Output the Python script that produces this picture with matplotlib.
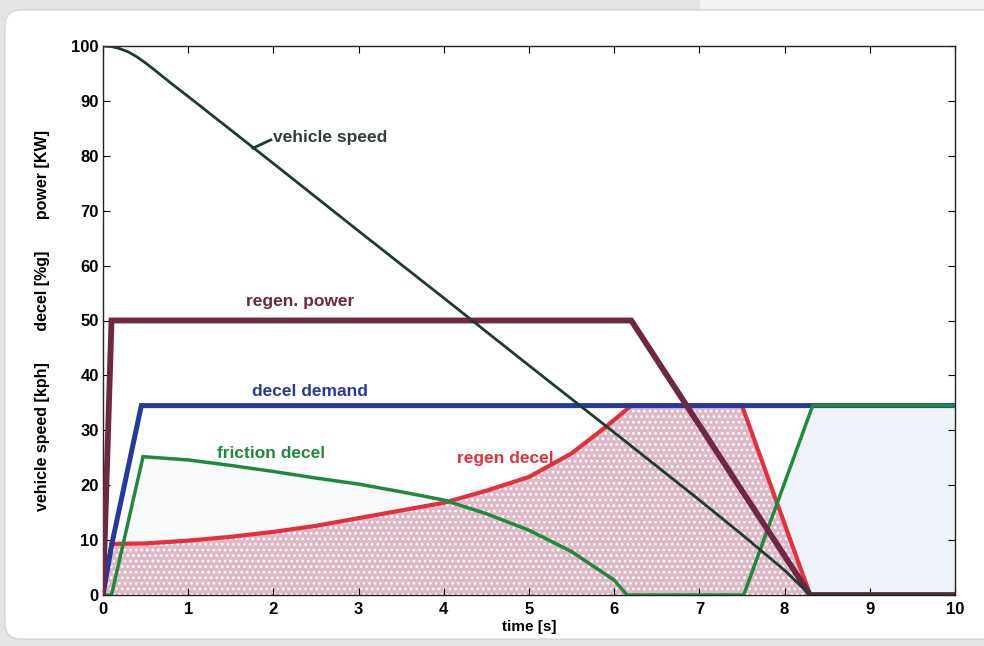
import matplotlib
matplotlib.use("Agg")
import matplotlib.pyplot as plt
from matplotlib.patches import FancyBboxPatch, Rectangle
import numpy as np

plt.rcParams['font.family'] = ['Liberation Sans', 'DejaVu Sans']
plt.rcParams['hatch.linewidth'] = 1.2

# ---- data ----
speed_t = [0, 0.1, 0.2, 0.3, 0.4, 0.5, 0.6, 0.8, 1, 2, 3, 4, 5, 6, 7, 7.5, 8, 8.3, 10]
speed_v = [100, 99.9, 99.5, 98.9, 98.0, 96.9, 95.7, 93.2, 90.8, 78.6, 66.3, 54.1, 41.8, 29.6, 17.3, 11.0, 4.5, 0, 0]

power_t = [0, 0.1, 6.2, 7.5, 8.3, 10]
power_v = [0, 50, 50, 19, 0, 0]

demand_t = [0, 0.1, 0.45, 10]
demand_v = [0, 9, 34.5, 34.5]

regen_t = [0, 0.1, 0.5, 1, 1.5, 2, 2.5, 3, 3.5, 4, 4.5, 5, 5.5, 5.9, 6.2, 7.5, 8.3, 10]
regen_v = [0, 9.3, 9.4, 9.9, 10.6, 11.5, 12.6, 14.0, 15.4, 16.8, 19.0, 21.5, 25.8, 30.6, 34.5, 34.5, 0, 0]

fric_t = [0, 0.1, 0.47, 1, 1.5, 2, 2.5, 3, 3.5, 4, 4.5, 5, 5.5, 6, 6.15, 7.52, 8.33, 10]
fric_v = [0, 0, 25.2, 24.6, 23.6, 22.5, 21.3, 20.2, 18.8, 17.3, 14.8, 11.8, 7.9, 2.7, 0, 0, 34.5, 34.5]

xticks = list(range(0, 11))
yticks = list(range(0, 101, 10))

# ---- figure ----
W, H = 984, 646
fig = plt.figure(figsize=(W / 100, H / 100), dpi=100)
fig.patch.set_facecolor('#e3e4e6')

bg = fig.add_axes([0, 0, 1, 1], zorder=-10)
bg.set_axis_off()
bg.set_xlim(0, W)
bg.set_ylim(H, 0)
bg.add_patch(Rectangle((700, -5), 400, 14, facecolor='#f2f2f3', edgecolor='none'))
bg.add_patch(FancyBboxPatch((5, 10), W + 40, H - 17,
                            boxstyle="round,pad=0,rounding_size=16",
                            facecolor='white', edgecolor='#d0d0d0', linewidth=0.8))

ax = fig.add_axes([103 / W, 1 - 595 / H, (955 - 103) / W, (595 - 46) / H], zorder=1)
ax.set_facecolor('none')

# fills
tg = np.linspace(0, 10, 2001)
rg = np.interp(tg, regen_t, regen_v)
fg = np.interp(tg, fric_t, fric_v)
ax.fill_between(tg, fg, rg, where=(fg > rg) & (tg > 7), facecolor='#edf3f8',
                edgecolor='none', linewidth=0, zorder=1, interpolate=True)
ax.fill_between(tg, fg, rg, where=(fg > rg) & (tg < 7), facecolor='#f8fafc',
                edgecolor='none', linewidth=0, zorder=1, interpolate=True)
ax.fill_between(tg, 0, rg, facecolor='#dfb8c8', edgecolor='white', hatch='...',
                linewidth=0, zorder=1)

# lines
ax.plot(regen_t, regen_v, color='#e2303c', lw=3.0, zorder=3, solid_joinstyle='miter')
ax.plot(demand_t, demand_v, color='#27399a', lw=3.6, zorder=3, solid_joinstyle='miter')
ax.plot(fric_t, fric_v, color='#1e8a3c', lw=2.5, zorder=4, solid_joinstyle='miter')
ax.plot(speed_t, speed_v, color='#1f3a2e', lw=2.0, zorder=5)
ax.plot(power_t, power_v, color='#6e2844', lw=4.2, zorder=4, solid_joinstyle='miter')

# annotations
fs = 12.5
ax.text(2.0, 83.3, 'vehicle speed', color='#2f3f38', fontsize=fs, fontweight='bold',
        ha='left', va='center', zorder=6)
ax.plot([1.76, 1.97], [81.4, 82.9], color='#1f3a2e', lw=2.0, zorder=6)
ax.text(2.31, 53.4, 'regen. power', color='#6e2844', fontsize=fs, fontweight='bold',
        ha='center', va='center', zorder=6)
ax.text(2.43, 37.1, 'decel demand', color='#27399a', fontsize=fs, fontweight='bold',
        ha='center', va='center', zorder=6)
ax.text(1.97, 25.7, 'friction decel', color='#1e8a3c', fontsize=fs, fontweight='bold',
        ha='center', va='center', zorder=6)
ax.text(4.72, 24.9, 'regen decel', color='#e2303c', fontsize=fs, fontweight='bold',
        ha='center', va='center', zorder=6)

# axes styling
ax.set_xlim(0, 10)
ax.set_ylim(0, 100)
ax.set_xticks(xticks)
ax.set_yticks(yticks)
ax.tick_params(direction='in', top=True, right=True, length=5, width=0.8,
               labelsize=12, pad=3)
ax.tick_params(axis='x', pad=5)
for lab in ax.get_xticklabels() + ax.get_yticklabels():
    lab.set_fontweight('bold')
for s in ax.spines.values():
    s.set_linewidth(1.0)
    s.set_color('#222222')
ax.set_xlabel('time [s]', fontsize=11, fontweight='bold', labelpad=2)
ax.set_ylabel('vehicle speed [kph]       decel [%g]       power [KW]',
              fontsize=11.5, fontweight='bold', labelpad=15)

fig.savefig('out.png', dpi=100, facecolor=fig.get_facecolor())
